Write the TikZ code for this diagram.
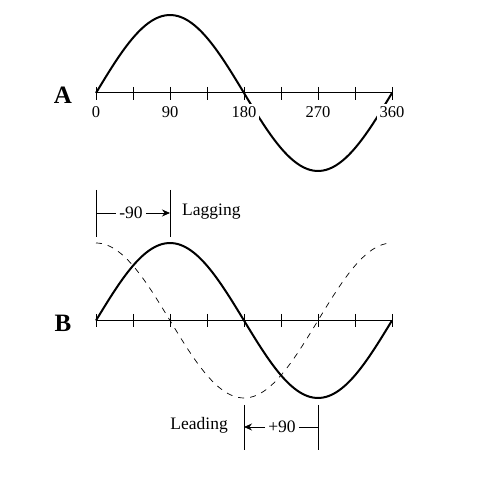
\documentclass[tikz,border=0pt]{standalone}
\usepackage{fontspec}
\setmainfont{Liberation Serif}
\usetikzlibrary{arrows.meta,positioning}

\begin{document}
\begin{tikzpicture}[x=1pt, y=-1pt,
    axisline/.style={line width=1pt},
    wave/.style={line width=2pt, line join=round},
    ghost/.style={line width=0.7pt, dash pattern=on 6pt off 6pt},
    deg/.style={font=\fontsize{16.5}{18}\selectfont, fill=white, inner sep=2.5pt},
    tag/.style={font=\fontsize{25}{27}\selectfont\bfseries},
    note/.style={font=\fontsize{17.5}{20}\selectfont, inner sep=1pt},
    arrow/.style={-{Stealth[length=8pt, width=7pt]}, line width=0.8pt},
    bar/.style={line width=0.8pt}
  ]
  \useasboundingbox (0,0) rectangle (480,478);

  % A: reference wave
  \draw[wave] plot[domain=0:360, samples=91] ({96+\x/360*296}, {93-78*sin(\x)});
  \draw[axisline] (96,93) -- (392,93);
  \foreach \i in {0,...,8} {
    \draw[axisline] (96+37*\i,87) -- (96+37*\i,100);
  }
  \foreach \i/\d in {0/0,2/90,4/180,6/270,8/360} {
    \node[deg] (degA\d) at (96+37*\i,112) {\d};
  }
  \node[tag] (labA) at (63,95) {A};

  % B: shifted waves
  \draw[ghost] plot[domain=0:360, samples=91] ({96+\x/360*296}, {320.5-77.5*cos(\x)});
  \draw[wave] plot[domain=0:360, samples=91] ({96+\x/360*296}, {320.5-77.5*sin(\x)});
  \draw[axisline] (96,320.5) -- (392,320.5);
  \foreach \i in {0,...,8} {
    \draw[axisline] (96+37*\i,314) -- (96+37*\i,327);
  }
  \node[tag] (labB) at (63,323) {B};

  % lagging bracket
  \coordinate (lagL) at (96,213);
  \coordinate (lagR) at (170,213);
  \draw[bar] (96,190) -- (96,237);
  \draw[bar] (170,190) -- (170,237);
  \node[note, inner sep=3pt] (lagnum) at (131,213) {-90};
  \draw[bar] (lagL) -- (lagnum);
  \draw[arrow] (lagnum) -- (lagR);
  \node[note, right=11pt of lagR, anchor=mid west] (lagtxt) {Lagging};

  % leading bracket
  \coordinate (leadL) at (244,427);
  \coordinate (leadR) at (318,427);
  \draw[bar] (244,405) -- (244,450);
  \draw[bar] (318,405) -- (318,450);
  \node[note, inner sep=3pt] (leadnum) at (282,427) {+90};
  \draw[arrow] (leadnum) -- (leadL);
  \draw[bar] (leadnum) -- (leadR);
  \node[note, left=15pt of leadL, anchor=mid east] (leadtxt) {Leading};
\end{tikzpicture}
\end{document}
